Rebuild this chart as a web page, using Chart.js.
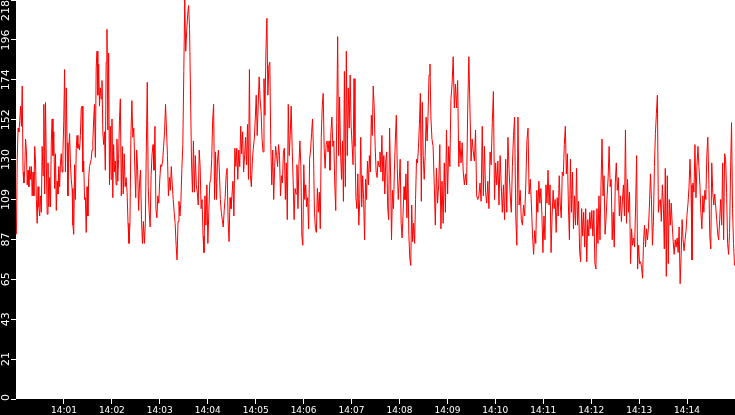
<!DOCTYPE html>
<html>
<head>
    <meta charset="UTF-8">
    <title>Wykres</title>
    <script src="https://cdn.jsdelivr.net/npm/chart.js@4/dist/chart.umd.min.js"></script>
</head>
<style>
    html, body { margin: 0; padding: 0; background: #000; overflow: hidden; }
    canvas { display: block; }
</style>
<body>
    <canvas id="wykres" width="735" height="415"></canvas>

    <script>
        // seconds after 14:00 where each block of readings starts
        var blockStart = [0, 130, 260, 390, 520, 650, 775];
        var blockEnd = 900;

        var block0 = [90,131,148,146,152,160,149,171,124,118,125,142,136,117,125,116,127,120,127,111,124,111,138,130,109,96,116,105,100,111,102,138,122,161,112,162,129,101,129,105,121,105,141,153,133,146,115,134,103,119,112,127,116,129,134,124,135,152,180,124,170,140,111,136,145,129,120,115,95,90,128,109,137,144,137,139,136,144,159,160,124,130,109,110,91,116,100,121,127,129,131,136,141,153,161,132,181,190,166,183,160,170,164,174,146,139,146,125,184,202,147,189,117,149,120,153,110,139,124,130,117,142,119,131,152];
        var block1 = [164,111,138,112,134,116,121,113,96,85,96,144,163,143,148,127,110,136,125,103,118,125,98,85,97,85,96,136,173,116,102,94,122,134,139,125,149,104,99,111,107,120,128,127,130,138,146,161,147,133,111,121,114,127,117,109,102,96,84,76,97,108,100,108,126,139,179,218,190,201,210,215,202,166,130,113,141,113,133,117,113,106,136,127,104,109,89,80,111,95,117,85,102,118,120,131,152,161,109,135,109,130,136,124,109,102,98,94];
        var block2 = [103,110,122,126,98,86,110,104,111,119,100,137,127,137,120,136,127,149,134,146,124,133,143,128,150,120,180,122,116,130,137,142,153,166,144,160,176,164,157,142,135,175,155,190,208,166,182,184,139,117,136,109,127,138,133,127,139,133,111,122,118,135,137,109,129,98,161,133,144,160,138,120,98,115,112,128,104,128,141,127,89,84,128,109,117,105,110,93,131,136,145,153,135,102,93,91,115,102,113,93,143,160,167,137,126,139,141];
        var block3 = [135,141,125,146,154,138,141,117,103,151,198,133,165,135,120,141,108,179,116,190,133,170,148,177,149,139,128,175,138,110,104,123,95,109,143,105,122,109,87,120,109,130,117,133,124,155,144,171,159,138,124,121,130,127,135,124,144,119,133,112,130,135,105,98,148,124,87,114,104,125,142,155,126,109,119,131,96,88,101,116,109,123,99,130,90,77,73,106,86,96,85,109,131,129,137,150,167,108,162,133,120,133,154,141,155,177,183,153];
        var block4 = [142,138,118,95,126,107,117,139,93,119,96,129,102,147,112,138,127,164,172,187,159,172,159,174,127,141,129,140,124,117,123,117,158,187,159,130,142,135,130,147,111,109,111,118,108,149,111,138,113,107,119,104,135,128,151,168,109,129,117,130,106,133,117,102,117,98,131,102,143,126,112,102,127,144,154,100,84,154,106,114,98,95,106,100,117,141,148,112,120,107,90,79,92];
        var block5 = [85,114,102,119,107,115,101,80,100,87,117,107,125,106,117,80,100,114,104,109,91,110,100,122,106,99,124,122,139,149,123,134,106,87,131,102,124,93,111,95,126,95,108,81,75,104,89,102,83,104,75,98,89,102,93,103,89,103,74,71,104,85,111,87,117,142,111,122,90,99,111,121,138,116,120,87,102,83,118,129,114,121,100,111,97,108,117,100,147,96,120,102,113,74,93,84,88,83];
        var block6 = [106,133,71,84,74,75,72,66,86,95,83,93,87,94,106,123,109,84,97,127,145,156,166,102,108,109,97,117,107,82,126,67,122,74,109,95,107,95,86,79,87,83,88,80,94,63,78,98,87,81,87,92,101,107,116,131,117,76,118,113,139,110,127,138,127,117,102,93,111,102,114,109,133,143,120,89,82,129,113,106,112,105,98,90,87,98,109,95,129,87,134,131,113,85,79,91,124,151,104,85,73];

        var yMax = 218;
        var yTickLabels = ['0', '21', '43', '65', '87', '109', '130', '152', '174', '196', '218'];
        var xTickLabels = ['14:01', '14:02', '14:03', '14:04', '14:05', '14:06', '14:07',
                           '14:08', '14:09', '14:10', '14:11', '14:12', '14:13', '14:14'];

        var blocks = [block0, block1, block2, block3, block4, block5, block6];
        var points = [];
        blocks.forEach(function (b, k) {
            var t0 = blockStart[k];
            var t1 = k + 1 < blockStart.length ? blockStart[k + 1] : blockEnd;
            b.forEach(function (v, i) {
                points.push({x: t0 + (i + 0.5) * (t1 - t0) / b.length, y: v});
            });
        });

        var yTickValues = yTickLabels.map(function (_, i) { return i * yMax / 10; });
        var xTickValues = xTickLabels.map(function (_, i) { return 60 * (i + 1); });

        var plotBg = {
            id: 'plotBg',
            beforeDraw: function (chart) {
                var a = chart.chartArea, c = chart.ctx;
                c.save();
                c.fillStyle = '#000';
                c.fillRect(0, 0, chart.width, chart.height);
                c.fillStyle = '#fff';
                c.fillRect(a.left, a.top, a.right - a.left, a.bottom - a.top);
                c.restore();
            }
        };

        // rotated y labels, centred on their ticks, kept inside the canvas
        var yLabels = {
            id: 'yLabels',
            afterDraw: function (chart) {
                var s = chart.scales.y, c = chart.ctx;
                c.save();
                c.fillStyle = '#fff';
                c.font = '11px "DejaVu Sans"';
                c.textAlign = 'center';
                c.textBaseline = 'middle';
                yTickLabels.forEach(function (t, i) {
                    var w = c.measureText(t).width;
                    var py = s.getPixelForValue(yTickValues[i]);
                    py = Math.max(w / 2, Math.min(s.bottom - w / 2 + 2, py));
                    c.save();
                    c.translate(6.5, py);
                    c.rotate(-Math.PI / 2);
                    c.fillText(t, 0, 0);
                    c.restore();
                });
                c.restore();
            }
        };

        var axisGrid = {
            display: true,
            drawOnChartArea: false,
            drawTicks: true,
            tickLength: 5,
            tickColor: '#fff',
            color: '#fff'
        };

        new Chart(document.getElementById('wykres'), {
            type: 'line',
            data: {
                datasets: [{
                    data: points,
                    borderColor: '#ff0000',
                    borderWidth: 1,
                    pointRadius: 0,
                    tension: 0,
                    fill: false
                }]
            },
            options: {
                responsive: false,
                animation: false,
                devicePixelRatio: 1,
                layout: {padding: 0},
                plugins: {legend: {display: false}, tooltip: {enabled: false}},
                scales: {
                    x: {
                        type: 'linear',
                        min: 0,
                        max: blockEnd,
                        grid: axisGrid,
                        border: {display: false},
                        afterBuildTicks: function (scale) {
                            scale.ticks = xTickValues.map(function (v) { return {value: v}; });
                        },
                        afterFit: function (scale) { scale.height = 16; },
                        ticks: {
                            color: '#fff',
                            font: {family: 'DejaVu Sans', size: 9},
                            padding: 1,
                            maxRotation: 0,
                            autoSkip: false,
                            callback: function (v, i) { return xTickLabels[i]; }
                        }
                    },
                    y: {
                        min: 0,
                        max: yMax,
                        grid: axisGrid,
                        border: {display: false},
                        afterBuildTicks: function (scale) {
                            scale.ticks = yTickValues.map(function (v) { return {value: v}; });
                        },
                        afterFit: function (scale) { scale.width = 16; },
                        ticks: {display: false}
                    }
                }
            },
            plugins: [plotBg, yLabels]
        });
    </script>
</body>
</html>
